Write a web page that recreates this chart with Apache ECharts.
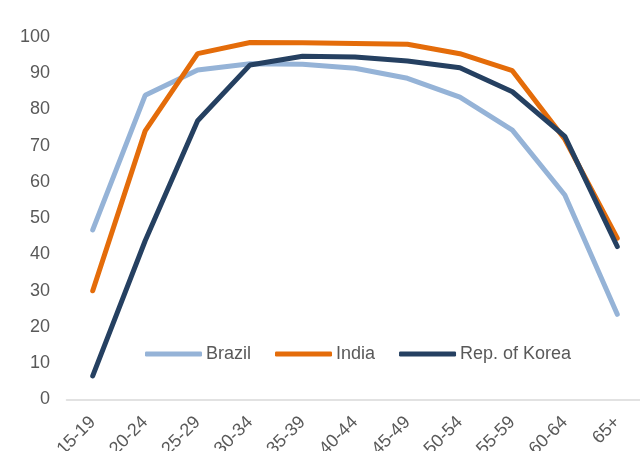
<!DOCTYPE html>
<html>
<head>
<meta charset="utf-8">
<script src="https://cdn.jsdelivr.net/npm/echarts@6/dist/echarts.min.js"></script>
<style>
  html, body { margin: 0; padding: 0; background: #fff; }
  #chart { width: 640px; height: 451px; }
</style>
</head>
<body>
<div id="chart"></div>
<script>
// Age groups on the category axis
const ageGroups = ['15-19', '20-24', '25-29', '30-34', '35-39', '40-44', '45-49', '50-54', '55-59', '60-64', '65+'];

// Participation rates (%) by age group
const brazil = [46.8, 83.9, 90.9, 92.6, 92.5, 91.4, 88.6, 83.4, 74.3, 56.4, 23.5];
const india = [30.0, 74.1, 95.4, 98.5, 98.4, 98.2, 98.0, 95.4, 90.7, 71.8, 44.5];
const korea = [6.5, 43.8, 76.9, 92.3, 94.7, 94.5, 93.4, 91.5, 84.9, 72.6, 42.2];

// Value-axis ticks
const yMin = 0, yMax = 100, yStep = 10;

const textColor = '#595959';
const font = 'Liberation Sans, Arial, sans-serif';
const fontSize = 18;

const chart = echarts.init(document.getElementById('chart'), null, { renderer: 'canvas' });

function lineSeries(name, data, color) {
  return {
    name: name,
    type: 'line',
    data: data,
    symbol: 'none',
    lineStyle: { width: 5, color: color, cap: 'round' },
    itemStyle: { color: color },
    emphasis: { disabled: true }
  };
}

chart.setOption({
  animation: false,
  textStyle: { fontFamily: font },
  grid: { left: 66.5, right: -3.5, top: 37, bottom: 51.5, containLabel: false, outerBoundsMode: 'none' },
  legend: {
    left: 145,
    top: 345,
    padding: 0,
    icon: 'roundRect',
    itemWidth: 57,
    itemHeight: 5,
    itemGap: 24,
    textStyle: { color: textColor, fontSize: fontSize, fontFamily: font, padding: [0, 0, 0, -1] },
    data: ['Brazil', 'India', 'Rep. of Korea']
  },
  xAxis: {
    type: 'category',
    data: ageGroups,
    boundaryGap: true,
    axisLine: { show: true, lineStyle: { color: '#D9D9D9', width: 1.5 } },
    axisTick: { show: false },
    axisLabel: { color: textColor, fontSize: fontSize, fontFamily: font, rotate: 45, margin: 20, interval: 0 }
  },
  yAxis: {
    type: 'value',
    min: yMin,
    max: yMax,
    interval: yStep,
    axisLine: { show: false },
    axisTick: { show: false },
    splitLine: { show: false },
    axisLabel: { color: textColor, fontSize: fontSize, fontFamily: font, margin: 16.5 }
  },
  series: [
    lineSeries('Brazil', brazil, '#95B3D7'),
    lineSeries('India', india, '#E46C0A'),
    lineSeries('Rep. of Korea', korea, '#254061')
  ]
});
</script>
</body>
</html>
